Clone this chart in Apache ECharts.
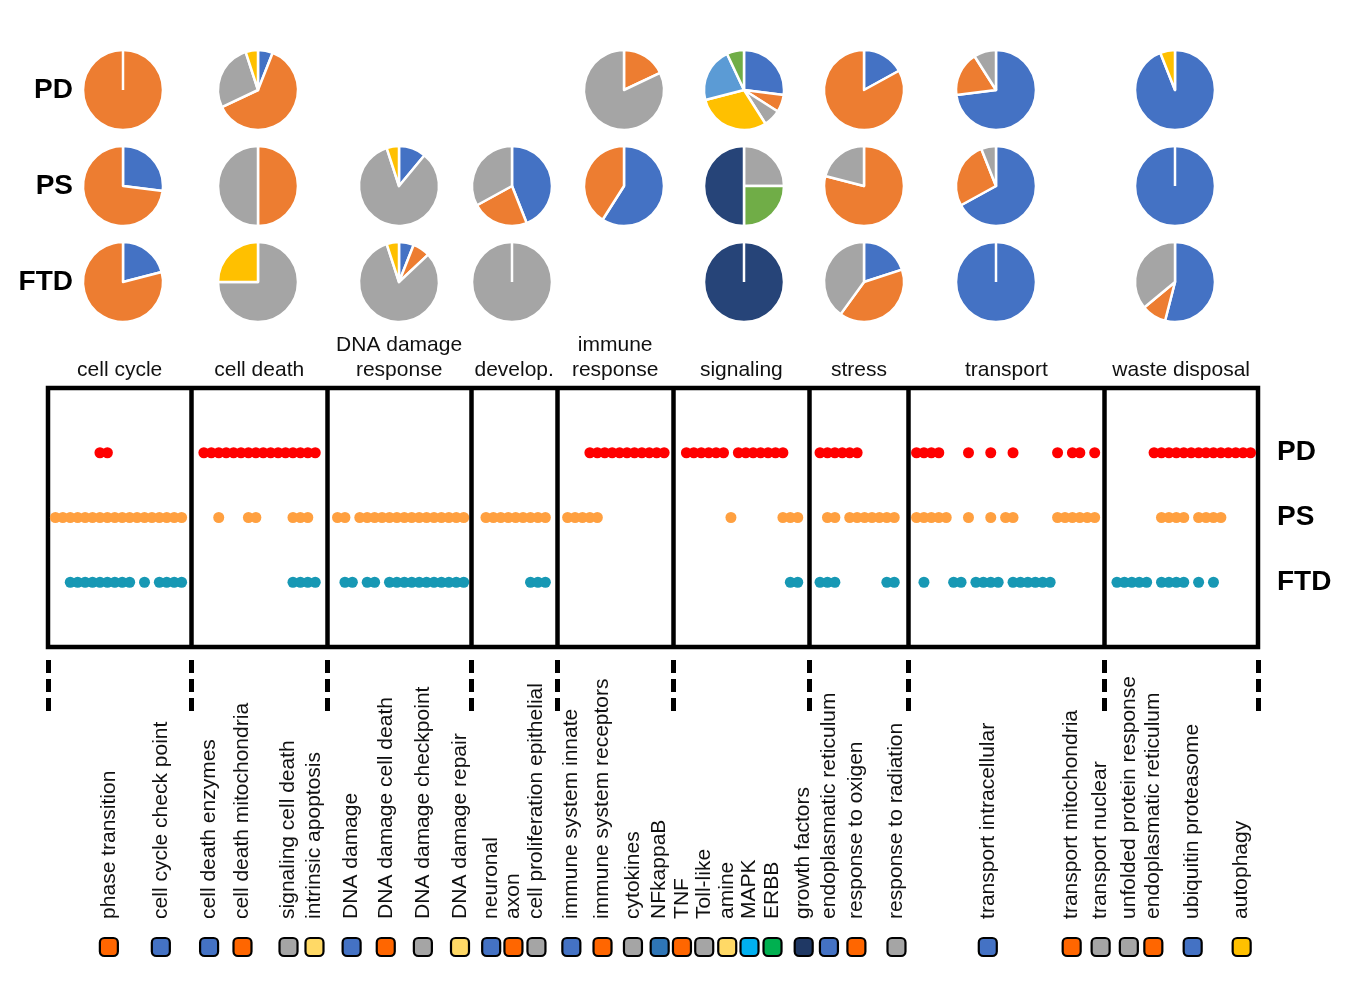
<!DOCTYPE html>
<html>
<head>
<meta charset="utf-8">
<script src="https://cdn.jsdelivr.net/npm/echarts@6/dist/echarts.min.js"></script>
<style>
  html, body { margin: 0; padding: 0; background: #fff; }
  #main { width: 1350px; height: 1000px; }
</style>
</head>
<body>
<div id="main"></div>
<script>
// groups (rows) and functional categories (columns / boxes)
const groups = ['PD', 'PS', 'FTD']
const categories = ['cell cycle', 'cell death', 'DNA damage\nresponse', 'develop.', 'immune\nresponse',
  'signaling', 'stress', 'transport', 'waste disposal']

// pie slices per category, [class, percent], clockwise from 12 o'clock
const piePD = [
  [['orange', 100]],
  [['blue', 6], ['orange', 62], ['gray', 27], ['yellow', 5]],
  [],
  [],
  [['orange', 18], ['gray', 82]],
  [['blue', 27], ['orange', 7], ['gray', 7], ['yellow', 30], ['lightblue', 22], ['green', 7]],
  [['blue', 17], ['orange', 83]],
  [['blue', 73], ['orange', 18], ['gray', 9]],
  [['blue', 94], ['yellow', 6]]
]
const piePS = [
  [['blue', 27], ['orange', 73]],
  [['orange', 50], ['gray', 50]],
  [['blue', 11], ['gray', 84], ['yellow', 5]],
  [['blue', 44], ['orange', 23], ['gray', 33]],
  [['blue', 59], ['orange', 41]],
  [['gray', 25], ['green', 25], ['darkblue', 50]],
  [['orange', 79], ['gray', 21]],
  [['blue', 67], ['orange', 27], ['gray', 6]],
  [['blue', 100]]
]
const pieFTD = [
  [['blue', 21], ['orange', 79]],
  [['gray', 75], ['yellow', 25]],
  [['blue', 6], ['orange', 7], ['gray', 82], ['yellow', 5]],
  [['gray', 100]],
  [],
  [['darkblue', 100]],
  [['blue', 20], ['orange', 40], ['gray', 40]],
  [['blue', 100]],
  [['blue', 54], ['orange', 10], ['gray', 36]]
]

// term slots (position index along the term axis) hit in each group
function run (a, b) { const r = []; for (let i = a; i <= b; i++) r.push(i); return r }
const dotsPD = [7, 8, ...run(21, 36), ...run(73, 83), ...run(86, 91), ...run(93, 99), ...run(104, 109),
  ...run(117, 120), 124, 127, 130, 136, 138, 139, 141, ...run(149, 162)]
const dotsPS = [...run(1, 18), 23, 27, 28, ...run(33, 35), 39, 40, ...run(42, 56), ...run(59, 67), ...run(70, 74),
  92, ...run(99, 101), 105, 106, ...run(108, 114), ...run(117, 121), 124, 127, 129, 130, ...run(136, 141),
  ...run(150, 153), ...run(155, 158)]
const dotsFTD = [...run(3, 11), 13, ...run(15, 18), ...run(33, 36), 40, 41, 43, 44, ...run(46, 56), ...run(65, 67),
  100, 101, ...run(104, 106), 113, 114, 118, 122, 123, ...run(125, 128), ...run(130, 135), ...run(144, 148),
  ...run(150, 153), 155, 157]

// category box borders on the term axis
const dividers = [0, 19.3, 37.6, 57, 68.6, 84.2, 102.6, 115.9, 142.3, 163]

// term legend below the boxes
const terms = ['phase transition', 'cell cycle check point', 'cell death enzymes', 'cell death mitochondria',
  'signaling cell death', 'intrinsic apoptosis', 'DNA damage', 'DNA damage cell death', 'DNA damage checkpoint',
  'DNA damage repair', 'neuronal', 'axon', 'cell proliferation epithelial', 'immune system innate',
  'immune system receptors', 'cytokines', 'NFkappaB', 'TNF', 'Toll-like', 'amine', 'MAPK', 'ERBB',
  'growth factors', 'endoplasmatic reticulum', 'response to oxigen', 'response to radiation',
  'transport intracellular', 'transport mitochondria', 'transport nuclear', 'unfolded protein response',
  'endoplasmatic reticulum', 'ubiquitin proteasome', 'autophagy']
const termSlot = [8.2, 15.2, 21.7, 26.2, 32.4, 35.9, 40.9, 45.5, 50.5, 55.5, 59.7, 62.7, 65.8, 70.5, 74.7,
  78.8, 82.4, 85.4, 88.4, 91.5, 94.5, 97.6, 101.8, 105.2, 108.9, 114.3, 126.6, 137.9, 141.8, 145.6, 148.9,
  154.2, 160.8]
const termClass = ['orange', 'blue', 'blue', 'orange', 'gray', 'ltyellow', 'blue', 'orange', 'gray', 'ltyellow',
  'blue', 'orange', 'gray', 'blue', 'orange', 'gray', 'midblue', 'orange', 'gray', 'ltyellow', 'cyan', 'green',
  'navy', 'blue', 'orange', 'gray', 'blue', 'orange', 'gray', 'gray', 'orange', 'blue', 'yellow']

// ---- styles / layout
const FONT = '"Liberation Sans", Arial, sans-serif'
const pieColor = { blue: '#4472C4', orange: '#ED7D31', gray: '#A5A5A5', yellow: '#FFC000',
  lightblue: '#5B9BD5', green: '#70AD47', darkblue: '#264478' }
const squareColor = { blue: '#4472C4', orange: '#FF6600', gray: '#A5A5A5', ltyellow: '#FFD966',
  midblue: '#2E75B6', cyan: '#00B0F0', green: '#00B050', navy: '#1F3864', yellow: '#FFC000' }
const dotColor = ['#FF0000', '#FFA040', '#1798B4']
const colX = [123, 258, 399, 512, 624, 744, 864, 996, 1175]
const rowY = [90, 186, 282]
const PIE_R = 40

const chart = echarts.init(document.getElementById('main'))

const series = []
const graphics = []

// pies
;[piePD, piePS, pieFTD].forEach((row, r) => {
  row.forEach((slices, c) => {
    if (!slices.length) return
    series.push({
      type: 'pie',
      center: [colX[c], rowY[r]],
      radius: PIE_R,
      startAngle: 90,
      clockwise: true,
      silent: true,
      label: { show: false },
      labelLine: { show: false },
      itemStyle: { borderColor: '#fff', borderWidth: 2.5 },
      data: slices.map(([k, v]) => ({ name: k, value: v, itemStyle: { color: pieColor[k] } }))
    })
    if (slices.length === 1) {
      // single-slice pie still shows the seam at 12 o'clock
      graphics.push({
        type: 'line', z: 100,
        shape: { x1: colX[c], y1: rowY[r], x2: colX[c], y2: rowY[r] - PIE_R - 1 },
        style: { stroke: '#fff', lineWidth: 2.5 }
      })
    }
  })
})

// row labels left of the pies
groups.forEach((g, r) => {
  graphics.push({
    type: 'text', x: 73, y: rowY[r],
    style: { text: g, align: 'right', verticalAlign: 'middle', textAlign: 'right',
      textVerticalAlign: 'middle', font: 'bold 28px ' + FONT, fill: '#000' }
  })
})

// dot rows
;[dotsPD, dotsPS, dotsFTD].forEach((dots, i) => {
  const s = {
    type: 'scatter',
    xAxisIndex: 0,
    yAxisIndex: 0,
    symbolSize: 11,
    clip: false,
    silent: true,
    itemStyle: { color: dotColor[i], opacity: 1 },
    data: dots.map(x => [x, groups[i]])
  }
  if (i === 0) {
    s.markLine = {
      silent: true,
      symbol: ['none', 'none'],
      label: { show: false },
      lineStyle: { color: '#000', width: 4.5, type: 'solid' },
      data: dividers.slice(1, -1).map(d => ({ xAxis: d }))
    }
  }
  if (i === 1) {
    s.markArea = {
      silent: true,
      itemStyle: { color: 'rgba(0,0,0,0)' },
      label: { show: true, position: 'top', distance: 5, color: '#111', fontSize: 21,
        lineHeight: 25, fontFamily: FONT },
      data: categories.map((c, k) => [{ name: c, xAxis: dividers[k] }, { xAxis: dividers[k + 1] }])
    }
  }
  series.push(s)
})

// term legend: coloured squares with rotated names, plus dashed box ticks
series.push({
  type: 'scatter',
  xAxisIndex: 1,
  yAxisIndex: 1,
  clip: false,
  silent: true,
  symbol: 'roundRect',
  symbolSize: 18,
  label: {
    show: true, position: 'top', distance: 18, rotate: 90, align: 'left', verticalAlign: 'middle',
    formatter: p => p.name, color: '#111', fontSize: 21, fontFamily: FONT
  },
  data: terms.map((t, k) => ({
    name: t, value: [termSlot[k], 287],
    itemStyle: { color: squareColor[termClass[k]], borderColor: '#000', borderWidth: 2.2, opacity: 1 }
  })),
  markLine: {
    silent: true,
    symbol: ['none', 'none'],
    label: { show: false },
    lineStyle: { color: '#000', width: 5, type: [13, 6], opacity: 1 },
    data: dividers.map(d => [{ coord: [d, 0] }, { coord: [d, 53] }])
  }
})

const option = {
  animation: false,
  backgroundColor: '#fff',
  textStyle: { fontFamily: FONT },
  grid: [
    { left: 48, right: 92, top: 388, height: 259, show: true, borderColor: '#000', borderWidth: 4.5 },
    { left: 48, right: 92, top: 660, height: 300 }
  ],
  xAxis: [
    { gridIndex: 0, type: 'value', min: 0, max: 163, show: false },
    { gridIndex: 1, type: 'value', min: 0, max: 163, show: false }
  ],
  yAxis: [
    {
      gridIndex: 0, type: 'category', data: ['', 'FTD', 'PS', 'PD', ' '], boundaryGap: false,
      position: 'right',
      axisLine: { show: false }, axisTick: { show: false }, splitLine: { show: false },
      axisLabel: { interval: 0, margin: 19, fontSize: 28, fontWeight: 'bold', color: '#000',
        fontFamily: FONT, padding: [0, 0, 12, 0] }
    },
    { gridIndex: 1, type: 'value', min: 0, max: 300, inverse: true, show: false }
  ],
  graphic: graphics,
  series: series
}

chart.setOption(option)
</script>
</body>
</html>
